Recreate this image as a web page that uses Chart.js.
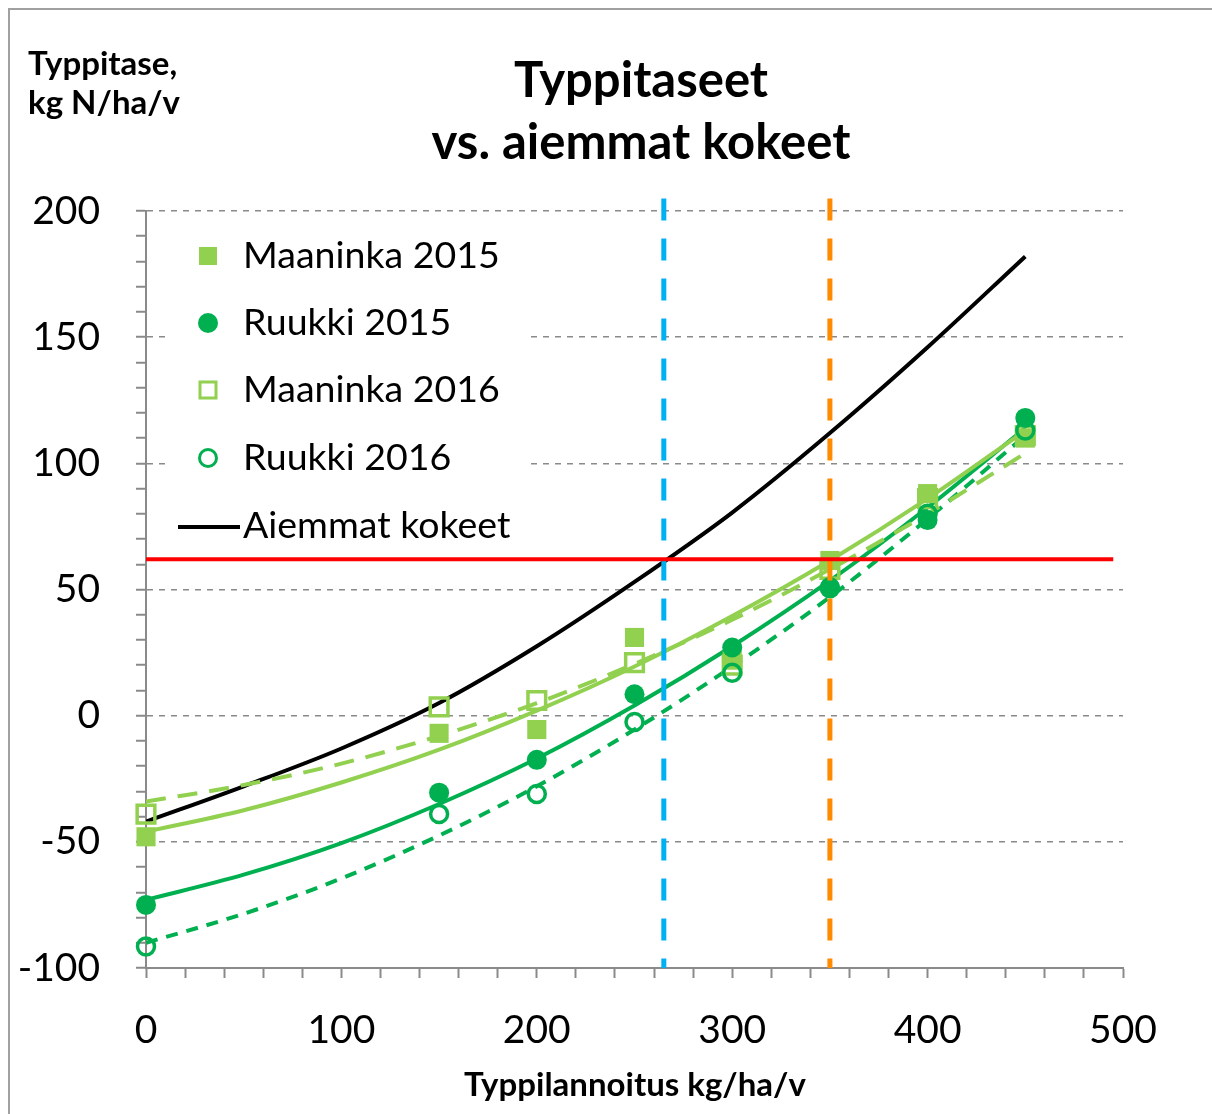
<!DOCTYPE html>
<html>
<head>
<title>Typpitaseet vs. aiemmat kokeet</title>
<script src="https://cdn.jsdelivr.net/npm/chart.js"></script>
<style>
  body { margin: 0; background: #fff; overflow: hidden; }
  #wrap { position: relative; width: 1212px; height: 1114px; }
  #frame { position: absolute; left: 8px; top: 8px; width: 1400px; height: 1400px;
           border: 2px solid #a0a0a0; pointer-events: none; }
</style>
</head>
<body>
<div id="wrap">
  <canvas id="chart" width="1212" height="1114"></canvas>
  <div id="frame"></div>
</div>

<script>
// measured N doses (kg/ha/v)
const doses = [0, 150, 200, 250, 300, 350, 400, 450];
const maaninka2015 = [-48, -7, -5.5, 31, 22, 61.5, 88, 110];
const ruukki2015 = [-75, -30.5, -17.5, 8.5, 27, 51, 77.5, 118];
const maaninka2016 = [-39, 3.5, 6, 21, 20, 58, 86, 111];
const ruukki2016 = [-91.5, -39, -31, -2.5, 17, 50.5, 80, 113];

// trend curves + earlier experiments, read at every 50 kg
const curveX = [0, 50, 100, 150, 200, 250, 300, 350, 400, 450];
const trendMaaninka2015 = [-46, -37.5, -26.5, -13.5, 2, 19.5, 39.5, 61.5, 86, 113];
const trendRuukki2015 = [-73, -63, -50.5, -35, -17, 4, 27.5, 53.5, 82.5, 114];
const trendMaaninka2016 = [-34, -27.5, -19, -8, 5, 20.5, 38, 58, 80, 104];
const trendRuukki2016 = [-90, -78.5, -64.5, -47.5, -28, -5.5, 19.5, 47, 78, 111];
const aiemmatKokeet = [-42, -28, -13, 5, 27.5, 53, 80.5, 112, 146, 182];

// reference lines
const tavoiteTaso = 62;        // red horizontal level
const tavoiteLoppu = 495;
const vanhaOptimi = 265;       // blue dashed
const uusiOptimi = 350;        // orange dashed

const seriesNames = ['Maaninka 2015', 'Ruukki 2015', 'Maaninka 2016', 'Ruukki 2016', 'Aiemmat kokeet'];

const lightGreen = '#92d050';
const darkGreen = '#00b050';

const pts = (xs, ys) => xs.map((x, i) => ({ x: x, y: ys[i] }));

function trendLine(ys, color, dash) {
    return {
        data: pts(curveX, ys), showLine: true, borderColor: color, borderWidth: 4,
        borderDash: dash, pointRadius: 0, cubicInterpolationMode: 'monotone', order: 3
    };
}

// legend box, titles
const extras = {
    id: 'extras',
    beforeDatasetsDraw(chart) {
        const ctx = chart.ctx;
        ctx.save();
        ctx.fillStyle = '#fff';
        ctx.fillRect(166, 224, 362, 322);
        ctx.restore();
    },
    afterDraw(chart) {
        const ctx = chart.ctx;
        ctx.save();
        ctx.fillStyle = '#000';

        // title
        ctx.font = 'bold 49px Lato';
        ctx.textAlign = 'center';
        ctx.textBaseline = 'alphabetic';
        ctx.fillText('Typpitaseet', 641, 97);
        ctx.fillText('vs. aiemmat kokeet', 641, 159);

        // axis titles
        ctx.font = 'bold 33px Lato';
        ctx.textAlign = 'left';
        ctx.fillText('Typpitase,', 28, 75);
        ctx.fillText('kg N/ha/v', 28, 114);
        ctx.textAlign = 'center';
        ctx.fillText('Typpilannoitus kg/ha/v', 635, 1096);

        // legend
        const rowY = [256, 323, 390, 458, 526];
        const mx = 208;
        ctx.lineWidth = 3;
        ctx.fillStyle = lightGreen;
        ctx.fillRect(mx - 9, rowY[0] - 9, 18, 18);
        ctx.fillStyle = darkGreen;
        ctx.beginPath(); ctx.arc(mx, rowY[1], 10, 0, Math.PI * 2); ctx.fill();
        ctx.strokeStyle = lightGreen;
        ctx.strokeRect(mx - 8, rowY[2] - 8, 16, 16);
        ctx.strokeStyle = darkGreen;
        ctx.beginPath(); ctx.arc(mx, rowY[3], 8.5, 0, Math.PI * 2); ctx.stroke();
        ctx.strokeStyle = '#000';
        ctx.lineWidth = 4;
        ctx.beginPath(); ctx.moveTo(178, rowY[4] + 1); ctx.lineTo(240, rowY[4] + 1); ctx.stroke();

        ctx.fillStyle = '#000';
        ctx.font = '37.5px Lato';
        ctx.textAlign = 'left';
        ctx.textBaseline = 'middle';
        seriesNames.forEach((name, i) => ctx.fillText(name, 243, rowY[i]));
        ctx.restore();
    }
};

const ctx = document.getElementById('chart').getContext('2d');
Chart.defaults.font.family = 'Lato';

new Chart(ctx, {
    type: 'scatter',
    data: {
        datasets: [
            {
                data: [{ x: 0, y: tavoiteTaso }, { x: tavoiteLoppu, y: tavoiteTaso }],
                showLine: true, borderColor: '#ff0000', borderWidth: 4, pointRadius: 0, order: 0
            },
            {
                data: [{ x: vanhaOptimi, y: 205 }, { x: vanhaOptimi, y: -100 }],
                showLine: true, borderColor: '#00b0f0', borderWidth: 5, borderDash: [22, 18],
                pointRadius: 0, clip: false, order: 0
            },
            {
                data: [{ x: uusiOptimi, y: 205 }, { x: uusiOptimi, y: -100 }],
                showLine: true, borderColor: '#ff8c00', borderWidth: 5, borderDash: [22, 18],
                pointRadius: 0, clip: false, order: 0
            },
            {
                label: seriesNames[0], data: pts(doses, maaninka2015), pointStyle: 'rect', clip: false,
                pointRadius: 13.5, backgroundColor: lightGreen, borderColor: lightGreen, borderWidth: 0, order: 2
            },
            {
                label: seriesNames[1], data: pts(doses, ruukki2015), pointStyle: 'circle', clip: false,
                pointRadius: 10, backgroundColor: darkGreen, borderColor: darkGreen, borderWidth: 0, order: 1
            },
            {
                label: seriesNames[2], data: pts(doses, maaninka2016), pointStyle: 'rect', clip: false,
                pointRadius: 12.5, backgroundColor: 'rgba(255,255,255,0)', borderColor: lightGreen, borderWidth: 3.5, order: 2
            },
            {
                label: seriesNames[3], data: pts(doses, ruukki2016), pointStyle: 'circle', clip: false,
                pointRadius: 8.5, backgroundColor: 'rgba(255,255,255,0)', borderColor: darkGreen, borderWidth: 3.5, order: 1
            },
            trendLine(trendMaaninka2015, lightGreen, []),
            trendLine(trendMaaninka2016, lightGreen, [20, 12]),
            trendLine(trendRuukki2015, darkGreen, []),
            trendLine(trendRuukki2016, darkGreen, [12, 9]),
            {
                label: seriesNames[4], data: pts(curveX, aiemmatKokeet), showLine: true,
                borderColor: '#000', borderWidth: 4, pointRadius: 0,
                cubicInterpolationMode: 'monotone', order: 3
            }
        ]
    },
    options: {
        responsive: false,
        animation: false,
        events: [],
        layout: { padding: { top: 211, right: 89, left: 0, bottom: 0 } },
        plugins: {
            legend: { display: false },
            title: { display: false },
            tooltip: { enabled: false }
        },
        scales: {
            x: {
                type: 'linear', min: 0, max: 500,
                afterFit(s) { s.height = 146; },
                ticks: {
                    stepSize: 20, maxTicksLimit: 100, autoSkip: false, maxRotation: 0,
                    color: '#000', font: { size: 39 }, padding: 29,
                    callback: v => (v % 100 === 0 ? v : '')
                },
                grid: { drawOnChartArea: false, color: '#8a8a8a', tickLength: 10, tickWidth: 2 },
                border: { color: '#8a8a8a', width: 2 }
            },
            y: {
                type: 'linear', min: -100, max: 200,
                afterFit(s) { s.width = 146; },
                ticks: {
                    stepSize: 10, maxTicksLimit: 100, autoSkip: false,
                    color: '#000', font: { size: 39 }, padding: 36,
                    callback: v => (v % 50 === 0 ? v : '')
                },
                grid: {
                    color: c => (c.tick && c.tick.value % 50 === 0 && c.tick.value > -100) ? '#8a8a8a' : 'rgba(0,0,0,0)',
                    lineWidth: 1.5, tickColor: '#8a8a8a', tickLength: 10, tickWidth: 2
                },
                border: { color: '#8a8a8a', width: 2, dash: [6, 6] }
            }
        }
    },
    plugins: [extras]
});
</script>
</body>
</html>
